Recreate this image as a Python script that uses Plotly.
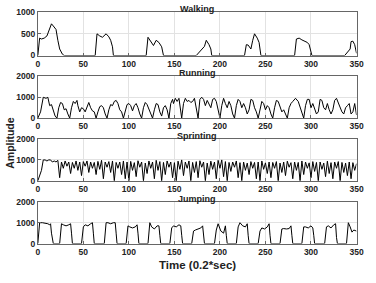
import plotly.graph_objects as go

# ---------------- data ----------------
walk_t = [0, 2, 4, 7, 10, 13, 15, 17, 20, 22, 24, 27, 29,
          63, 65, 68, 71, 75, 78, 80, 82, 83,
          119, 121, 124, 127, 130, 133, 136, 138,
          174, 178, 182, 183, 185, 188, 190, 191,
          227, 229, 231, 234, 236, 238, 241, 243, 245,
          282, 284, 287, 290, 293, 296, 298, 300, 301,
          337, 339, 341, 343, 344, 346, 348, 350]
walk_v = [0, 400, 380, 400, 450, 600, 730, 680, 600, 350, 150, 30, 0,
          0, 500, 450, 420, 500, 430, 350, 200, 0,
          0, 420, 330, 230, 350, 300, 200, 0,
          0, 100, 200, 210, 350, 250, 150, 0,
          0, 250, 240, 150, 350, 500, 400, 300, 0,
          0, 380, 400, 360, 330, 300, 250, 100, 0,
          0, 50, 100, 150, 320, 330, 250, 50]

run_t = [0, 3, 6, 9, 11, 13, 15, 17, 19, 21,
         23, 25, 27, 29, 31, 33, 35, 37, 39, 41,
         43, 44, 46, 48, 50, 52, 54, 56, 58, 60,
         62, 64, 66, 68, 70, 72, 74, 76, 78, 80,
         82, 84, 86, 88, 90, 92, 94, 96, 98, 100,
         102, 104, 106, 108, 110, 112, 114, 116, 118, 120,
         122, 124, 126, 128, 130, 132, 134, 136, 138, 140,
         142, 144, 146, 148, 149, 151, 153, 155, 157, 158,
         160, 162, 164, 166, 168, 170, 172, 174, 176, 178,
         180, 182, 184, 186, 188, 190, 192, 194, 196, 198,
         200, 202, 204, 206, 208, 210, 212, 214, 216, 218,
         220, 222, 224, 226, 228, 230, 232, 234, 236, 238,
         240, 242, 244, 246, 248, 250, 252, 254, 256, 258,
         260, 262, 264, 266, 268, 270, 272, 274, 276, 278,
         280, 283, 286, 288, 290, 292, 294, 296, 298, 300,
         302, 304, 306, 308, 310, 312, 314, 316, 318, 320,
         322, 324, 326, 328, 330, 332, 334, 336, 338, 340,
         342, 344, 346, 348, 350]
run_v = [0, 300, 1000, 950, 1000, 600, 650, 400, 100, 0,
         500, 750, 700, 400, 450, 200, 0, 500, 800, 700,
         850, 600, 300, 500, 450, 300, 550, 750, 500, 350,
         300, 0, 300, 550, 600, 500, 200, 0, 400, 650,
         600, 800, 850, 700, 400, 300, 0, 300, 650, 700,
         600, 350, 600, 700, 500, 200, 0, 500, 750, 650,
         400, 200, 0, 400, 700, 650, 300, 100, 500, 600,
         400, 0, 700, 900, 700, 950, 800, 950, 400, 0,
         700, 950, 800, 850, 750, 800, 950, 500, 0, 900,
         1000, 900, 600, 850, 700, 500, 900, 950, 800, 300,
         0, 600, 950, 700, 500, 800, 600, 200, 0, 600,
         900, 800, 500, 700, 500, 200, 400, 900, 850, 500,
         300, 0, 500, 800, 700, 400, 600, 500, 200, 0,
         500, 850, 800, 500, 300, 400, 200, 0, 500, 700,
         800, 950, 800, 500, 200, 0, 600, 900, 900, 500,
         700, 400, 200, 300, 900, 850, 500, 400, 700, 400,
         200, 400, 850, 950, 700, 500, 300, 200, 500, 600,
         700, 200, 300, 700, 150]

sprint_start_t = [0, 2, 4, 6, 8, 10, 12, 14, 16, 18, 20]
sprint_start_v = [0, 300, 500, 1000, 1000, 950, 1000, 1000, 900, 950, 900]
sprint_peaks = [980, 900, 950, 900, 880, 950, 900, 920, 950, 900,
                880, 930, 980, 900, 920, 950, 880, 900, 950, 900,
                930, 870, 960, 900, 850, 950, 900, 980, 920, 880,
                950, 900, 870, 940, 1000, 900, 950, 880, 920, 960,
                900, 850, 940, 900, 980, 1000, 920, 880, 900, 950,
                870, 900, 850, 920, 880, 900, 950, 860, 900, 880,
                920, 850, 900, 940, 870, 900, 880, 950, 900, 860,
                920, 880, 900, 850, 940, 870, 900, 920, 880, 850,
                900, 870, 820]
sprint_dips = [150, 600, 700, 350, 600, 500, 250, 700, 400, 600,
               300, 550, 100, 650, 400, 0, 600, 300, 100, 0,
               500, 200, 650, 0, 350, 600, 100, 500, 0, 300,
               650, 150, 0, 550, 250, 600, 0, 400, 150, 650,
               0, 300, 550, 100, 600, 200, 0, 450, 650, 150,
               0, 500, 300, 600, 100, 0, 550, 350, 150, 600,
               0, 400, 250, 650, 100, 500, 0, 300, 600, 150,
               450, 0, 550, 200, 350, 100, 600, 0, 400, 250,
               100, 500]
sprint_peak_t = list(range(22, 351, 4))
sprint_dip_t = list(range(24, 349, 4))

jump_t = [0, 2, 5, 8, 11, 13, 14, 15, 17,
          24, 26, 28, 31, 34, 36, 37, 38,
          48, 50, 52, 55, 58, 60, 61, 62,
          73, 75, 77, 80, 83, 85, 86, 87,
          97, 99, 101, 104, 107, 109, 110, 111,
          121, 123, 125, 128, 131, 133, 134, 135,
          145, 147, 149, 152, 155, 157, 158, 159,
          169, 171, 173, 176, 179, 181, 182, 183,
          194, 196, 198, 201, 204, 206, 207, 208,
          218, 220, 222, 225, 228, 230, 231, 232,
          242, 244, 246, 249, 252, 254, 255, 256,
          266, 268, 270, 273, 276, 278, 279, 280,
          290, 292, 294, 297, 300, 302, 303, 304,
          315, 317, 319, 322, 325, 327, 328, 329,
          339, 341, 343, 345, 347, 349, 350]
jump_v = [0, 1000, 1000, 980, 950, 900, 950, 500, 0,
          0, 950, 900, 850, 900, 950, 500, 0,
          0, 800, 900, 850, 950, 1000, 500, 0,
          0, 1000, 1000, 950, 1000, 1000, 500, 0,
          0, 850, 800, 750, 800, 900, 500, 0,
          0, 1000, 800, 700, 850, 850, 400, 0,
          0, 750, 850, 800, 900, 850, 400, 0,
          0, 600, 650, 700, 750, 850, 400, 0,
          0, 650, 950, 600, 500, 850, 400, 0,
          0, 800, 1000, 850, 800, 950, 400, 0,
          0, 600, 750, 700, 800, 950, 400, 0,
          0, 700, 720, 700, 720, 850, 400, 0,
          0, 800, 800, 750, 850, 750, 400, 0,
          0, 800, 850, 750, 900, 950, 300, 0,
          0, 1000, 800, 550, 650, 600, 600]

titles = ["Walking", "Running", "Sprinting", "Jumping"]
y_ranges = [[0, 1000], [0, 2000], [0, 2000], [0, 2000]]
y_ticks = [[0, 500, 1000], [0, 1000, 2000], [0, 1000, 2000], [0, 1000, 2000]]
x_ticks = [0, 50, 100, 150, 200, 250, 300, 350]

# build sprint series by interleaving peaks/dips
sprint_t = list(sprint_start_t)
sprint_v = list(sprint_start_v)
for i, p in enumerate(sprint_peaks):
    sprint_t.append(sprint_peak_t[i])
    sprint_v.append(p)
    if i < len(sprint_dips):
        sprint_t.append(sprint_dip_t[i])
        sprint_v.append(sprint_dips[i])

series = [(walk_t, walk_v), (run_t, run_v), (sprint_t, sprint_v), (jump_t, jump_v)]

# ---------------- layout ----------------
W, H = 376, 283
domains_y = [[0.815, 0.974], [0.5855, 0.7385], [0.356, 0.509], [0.126, 0.279]]
dom_x = [0.0976, 0.966]
FONT = "Liberation Sans"

fig = go.Figure()
layout = dict(
    width=W, height=H, margin=dict(l=0, r=0, t=0, b=0),
    paper_bgcolor="white", plot_bgcolor="white", showlegend=False,
    font=dict(family=FONT, color="#222"),
    annotations=[],
)
for i, (t, v) in enumerate(series):
    xa = "x" if i == 0 else f"x{i+1}"
    ya = "y" if i == 0 else f"y{i+1}"
    fig.add_trace(go.Scatter(x=t, y=v, mode="lines", xaxis=xa, yaxis=ya,
                             line=dict(color="black", width=1)))
    xkey = "xaxis" if i == 0 else f"xaxis{i+1}"
    ykey = "yaxis" if i == 0 else f"yaxis{i+1}"
    layout[xkey] = dict(domain=dom_x, anchor=ya, range=[0, 350], tickvals=x_ticks,
                        showgrid=True, gridcolor="#e2e2e2", gridwidth=1,
                        zeroline=False, showline=True, linecolor="#666", linewidth=1,
                        mirror=True, ticks="inside", ticklen=3, tickcolor="#666",
                        tickfont=dict(size=8.5, family=FONT, weight="bold", color="#222"))
    layout[ykey] = dict(domain=domains_y[i], anchor=xa, range=y_ranges[i], tickvals=y_ticks[i],
                        showgrid=True, gridcolor="#e2e2e2", gridwidth=1,
                        zeroline=False, showline=True, linecolor="#666", linewidth=1,
                        mirror=True, ticks="inside", ticklen=3, tickcolor="#666",
                        tickfont=dict(size=8.5, family=FONT, weight="bold", color="#222"))
    layout["annotations"].append(dict(
        text=f"<b>{titles[i]}</b>", xref="paper", yref="paper",
        x=(dom_x[0] + dom_x[1]) / 2, y=domains_y[i][1], xanchor="center", yanchor="bottom",
        showarrow=False, yshift=-4, font=dict(size=9, family=FONT, color="#222")))

layout["annotations"].append(dict(
    text="<b>Time (0.2*sec)</b>", xref="paper", yref="paper", x=(dom_x[0] + dom_x[1]) / 2,
    y=1 - 270 / H, xanchor="center", yanchor="middle", showarrow=False,
    font=dict(size=11.5, family=FONT, color="#222")))
layout["annotations"].append(dict(
    text="<b>Amplitude</b>", xref="paper", yref="paper", x=8 / W, y=1 - 143 / H,
    xanchor="center", yanchor="middle", textangle=-90, showarrow=False,
    font=dict(size=10.5, family=FONT, color="#222")))

fig.update_layout(**layout)
fig.write_html("out.html")
